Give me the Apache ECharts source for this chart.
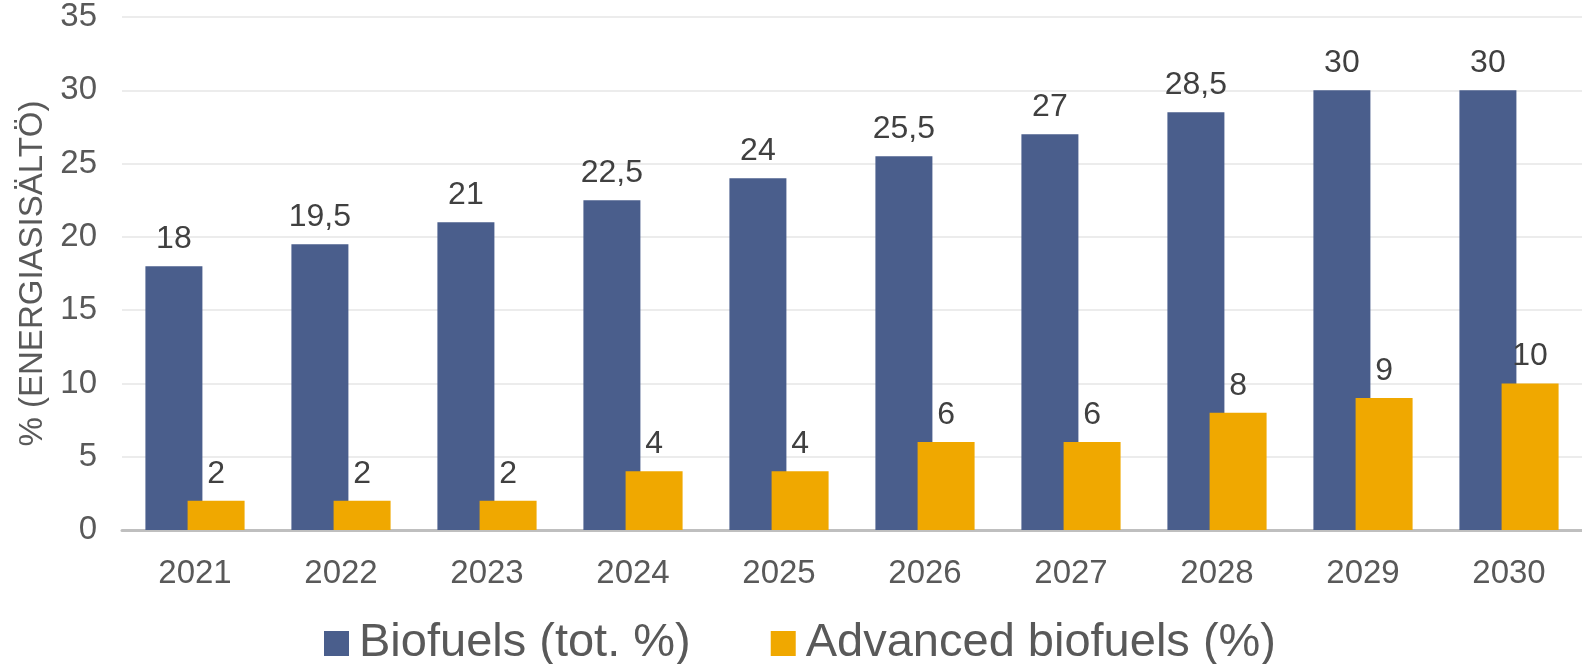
<!DOCTYPE html>
<html>
<head>
<meta charset="utf-8">
<script src="https://cdn.jsdelivr.net/npm/echarts@6/dist/echarts.min.js"></script>
<style>
html,body{margin:0;padding:0;background:#fff;}
#chart{width:1582px;height:664px;}
</style>
</head>
<body>
<div id="chart"></div>
<script>
const categories = ['2021','2022','2023','2024','2025','2026','2027','2028','2029','2030'];
const biofuelsTotal = [18, 19.5, 21, 22.5, 24, 25.5, 27, 28.5, 30, 30];
const advancedBiofuels = [2, 2, 2, 4, 4, 6, 6, 8, 9, 10];
const seriesNames = ['Biofuels (tot. %)', 'Advanced biofuels (%)'];
const yAxisName = '% (ENERGIASISÄLTÖ)';

const FONT = 'Liberation Sans, Arial, sans-serif';
const fmt = p => String(p.value).replace('.', ',');

const chart = echarts.init(document.getElementById('chart'));
chart.setOption({
  animation: false,
  backgroundColor: '#ffffff',
  textStyle: { fontFamily: FONT },
  grid: { left: 122, top: 17, width: 1463, bottom: 134, containLabel: false },
  legend: {
    left: 319,
    top: 615,
    itemWidth: 25,
    itemHeight: 25,
    itemGap: 80,
    icon: 'rect',
    textStyle: { fontSize: 47, color: '#595959', fontFamily: FONT, padding: [0,0,0,5] },
    data: seriesNames
  },
  xAxis: {
    type: 'category',
    data: categories,
    axisLine: { show: true, lineStyle: { color: '#bfbfbf', width: 3 } },
    axisTick: { show: false },
    axisLabel: { fontSize: 33, color: '#595959', margin: 27, fontFamily: FONT }
  },
  yAxis: {
    type: 'value',
    min: 0,
    max: 35,
    interval: 5,
    name: yAxisName,
    nameLocation: 'middle',
    nameGap: 73,
    nameTextStyle: { fontSize: 33, color: '#595959', fontFamily: FONT },
    axisLine: { show: false },
    axisTick: { show: false },
    axisLabel: { fontSize: 33, color: '#595959', margin: 25, fontFamily: FONT },
    splitLine: { lineStyle: { color: '#ececec', width: 2 } }
  },
  series: [
    {
      name: seriesNames[0],
      type: 'bar',
      data: biofuelsTotal,
      barWidth: 57,
      barGap: '-26%',
      itemStyle: { color: '#4a5e8c' },
      label: { show: true, position: 'top', distance: 11, fontSize: 32, color: '#404040', fontFamily: FONT, formatter: fmt }
    },
    {
      name: seriesNames[1],
      type: 'bar',
      data: advancedBiofuels,
      barWidth: 57,
      itemStyle: { color: '#f0a800' },
      label: { show: true, position: 'top', distance: 11, fontSize: 32, color: '#404040', fontFamily: FONT, formatter: fmt }
    }
  ]
});
</script>
</body>
</html>
